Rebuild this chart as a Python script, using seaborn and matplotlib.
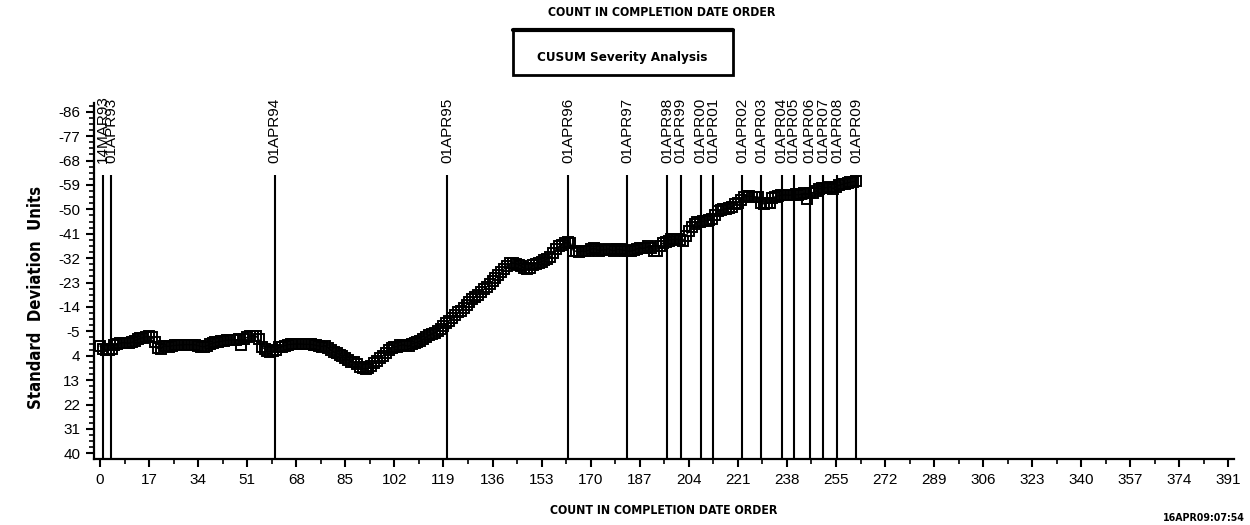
import matplotlib
matplotlib.use("Agg")
import matplotlib.pyplot as plt
from matplotlib.lines import Line2D
from matplotlib.patches import Rectangle
from matplotlib.ticker import AutoMinorLocator, FixedLocator
import pandas as pd
import seaborn as sns

# ── data ──────────────────────────────────────────────────────────────────────

cusum = [
    0.4, 1.5, 1.9, 2.0, 1.6, 0.2, -0.2, -0.6, -0.8, -0.7,
    -0.6, -0.9, -1.5, -2.0, -2.4, -2.7, -3.0, -3.1, -3.0, -1.0,
    1.3, 1.5, 0.5, 0.4, 0.6, 0.3, 0.2, 0.1, 0.0, 0.0,
    -0.1, 0.0, -0.1, 0.0, 0.3, 0.6, 0.7, 0.3, -0.2, -0.6,
    -0.9, -1.2, -1.3, -1.5, -1.7, -1.8, -1.9, -1.8, -2.0, 0.0,
    -2.2, -2.8, -3.2, -3.4, -3.3, -2.0, 0.6, 1.5, 2.3, 2.5,
    2.4, 1.8, 0.9, 0.7, 0.3, 0.0, -0.2, -0.3, -0.3, -0.3,
    -0.3, -0.2, -0.2, -0.2, 0.0, 0.2, 0.5, 0.6, 0.3, 1.0,
    2.0, 2.6, 3.0, 3.6, 4.2, 5.0, 5.6, 6.3, 6.5, 7.2,
    8.2, 8.7, 8.9, 8.6, 7.8, 6.8, 6.0, 5.0, 4.2, 3.0,
    2.0, 1.0, 0.8, 0.6, 0.2, 0.0, 0.3, 0.5, -0.4, -0.7,
    -1.0, -1.5, -2.0, -2.8, -3.6, -4.0, -4.5, -5.2, -6.0, -6.8,
    -8.0, -8.8, -9.8, -11.0, -12.0, -12.6, -13.5, -14.8, -16.0, -16.9,
    -17.6, -18.5, -19.6, -20.5, -21.4, -22.3, -23.4, -24.6, -25.8, -26.8,
    -28.0, -29.2, -30.1, -30.2, -30.0, -29.6, -29.0, -28.2, -27.9, -28.3,
    -29.3, -30.0, -30.2, -30.7, -31.2, -31.8, -32.4, -33.8, -35.2, -36.3,
    -37.0, -37.6, -37.8, -37.5, -34.8, -34.5, -34.3, -34.6, -34.5, -34.8,
    -35.2, -35.6, -35.2, -34.8, -35.0, -35.1, -35.4, -35.0, -34.7, -35.2,
    -35.3, -35.0, -34.8, -34.6, -34.6, -34.9, -35.4, -35.8, -35.6, -35.8,
    -36.3, -35.8, -34.5, -34.6, -36.5, -37.5, -38.0, -38.5, -38.9, -38.9,
    -39.0, -38.8, -38.4, -40.0, -42.0, -43.6, -44.6, -45.3, -45.5, -45.6,
    -45.8, -46.0, -46.6, -48.0, -49.2, -49.6, -50.0, -50.2, -50.4, -51.0,
    -51.8, -52.2, -53.6, -54.5, -54.8, -54.8, -54.7, -54.6, -54.6, -52.5,
    -52.0, -52.2, -52.3, -54.0, -54.7, -55.0, -55.2, -55.3, -55.3, -55.2,
    -55.4, -55.5, -55.3, -55.6, -56.0, -53.8, -56.0, -56.2, -56.6, -57.4,
    -57.8, -57.9, -58.0, -58.3, -57.6, -58.4, -58.8, -59.2, -59.5, -59.8,
    -60.0, -60.2, -60.5,
]
count = list(range(len(cusum)))

ref_labels = ["14MAR93", "01APR93", "01APR94", "01APR95", "01APR96", "01APR97",
              "01APR98", "01APR99", "01APR00", "01APR01", "01APR02", "01APR03",
              "01APR04", "01APR05", "01APR06", "01APR07", "01APR08", "01APR09"]
ref_pos = [1.1, 3.8, 60.5, 120.2, 162.3, 182.7, 196.6, 201.2, 208.1, 212.5,
           222.5, 229.1, 236.2, 240.4, 245.9, 250.6, 255.5, 262.0]

x_ticks = list(range(0, 392, 17))
y_ticks = list(range(-86, 41, 9))

df = pd.DataFrame({"count": count, "cusum": cusum})

# ── style ─────────────────────────────────────────────────────────────────────

sns.set_style("ticks")
plt.rcParams["font.family"] = ["Liberation Sans", "DejaVu Sans"]
plt.rcParams["axes.unicode_minus"] = False
for k in ["text.color", "axes.labelcolor", "xtick.color", "ytick.color", "axes.edgecolor"]:
    plt.rcParams[k] = "black"

# heavy condensed look for the SAS titles
HEAD = dict(family=["DejaVu Sans"], fontstretch="condensed", fontweight="bold", color="black")

fig = plt.figure(figsize=(12.5, 5.25), dpi=100)
ax = fig.add_axes([0.0754, 0.1257, 0.912, 0.678])

sns.lineplot(data=df, x="count", y="cusum", ax=ax, color="black", linewidth=1.0,
             marker="s", markersize=6.5, markerfacecolor="none",
             markeredgecolor="black", markeredgewidth=1.4)

ax.set_xlim(-2, 393)
ax.set_ylim(42.1, -89.2)

# reference date lines
ax.vlines(ref_pos, ymin=42.1, ymax=-62.6, color="black", linewidth=1.5)
for lab, x in zip(ref_labels, ref_pos):
    ax.text(x, 0.831, lab, transform=ax.get_xaxis_transform(), rotation=90,
            ha="center", va="bottom", fontsize=11, clip_on=False)

ax.xaxis.set_major_locator(FixedLocator(x_ticks))
ax.yaxis.set_major_locator(FixedLocator(y_ticks))
ax.xaxis.set_minor_locator(AutoMinorLocator(2))
ax.yaxis.set_minor_locator(AutoMinorLocator(4))
ax.tick_params(which="major", length=6, width=1.5, labelsize=11, pad=4)
ax.tick_params(which="minor", length=3.5, width=1.2)
for s in ["left", "bottom"]:
    ax.spines[s].set_linewidth(1.6)
sns.despine(ax=ax)

ax.set_xlabel("")
ax.set_ylabel("")

# ── texts ─────────────────────────────────────────────────────────────────────

fig.text(0.529, 1 - 12 / 525, "COUNT IN COMPLETION DATE ORDER", ha="center", va="center",
         fontsize=8.8, **HEAD)
fig.text(0.531, 1 - 511 / 525, "COUNT IN COMPLETION DATE ORDER", ha="center", va="center",
         fontsize=8.8, **HEAD)
fig.text(36 / 1250, 1 - 297 / 525, "Standard  Deviation  Units", rotation=90,
         ha="center", va="center", fontsize=12, **HEAD)
fig.text(1245 / 1250, 1 - 518 / 525, "16APR09:07:54", ha="right", va="center",
         fontsize=7.6, **HEAD)

box = Rectangle((513 / 1250, 1 - 75 / 525), 220 / 1250, 45 / 525,
                transform=fig.transFigure, fill=False, edgecolor="black", linewidth=2)
fig.patches.append(box)
fig.lines.append(Line2D([513 / 1250, 733 / 1250], [1 - 30 / 525, 1 - 30 / 525],
                        transform=fig.transFigure, color="black", linewidth=3))
fig.text(622 / 1250, 1 - 57 / 525, "CUSUM Severity Analysis", ha="center", va="center",
         fontsize=9.6, **HEAD)

fig.savefig("out.png", dpi=100)
